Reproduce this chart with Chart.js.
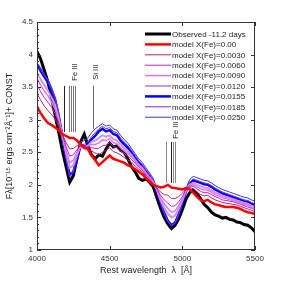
<!DOCTYPE html>
<html>
<head>
<meta charset="utf-8">
<script src="https://cdn.jsdelivr.net/npm/chart.js@4.4.0/dist/chart.umd.min.js"></script>
<style>
  html, body { margin: 0; padding: 0; background: #fff; }
  #wrap { width: 281px; height: 281px; }
</style>
</head>
<body>
<div id="wrap"><canvas id="myChart" width="281" height="281"></canvas></div>
<script>
// wavelength grid (Angstrom), 25 A steps
const wavelengths = [];
for (let w = 4000; w <= 5500; w += 25) wavelengths.push(w);

const observed = [4.05, 3.93, 3.76, 3.58, 3.34, 3.06, 2.80, 2.52, 2.28, 2.04, 2.14, 2.40, 2.66, 2.78, 2.60, 2.46, 2.40, 2.46, 2.44, 2.55, 2.64, 2.58, 2.60, 2.53, 2.50, 2.40, 2.28, 2.20, 2.10, 2.07, 2.09, 2.04, 1.97, 1.80, 1.64, 1.50, 1.40, 1.33, 1.38, 1.48, 1.62, 1.78, 1.88, 1.92, 1.87, 1.79, 1.70, 1.65, 1.58, 1.54, 1.52, 1.49, 1.50, 1.47, 1.46, 1.43, 1.42, 1.39, 1.38, 1.34, 1.28];
const fe0000 = [3.20, 3.10, 3.02, 2.95, 2.92, 2.88, 2.84, 2.78, 2.75, 2.72, 2.72, 2.68, 2.62, 2.58, 2.55, 2.45, 2.38, 2.30, 2.35, 2.40, 2.45, 2.40, 2.38, 2.36, 2.34, 2.30, 2.28, 2.24, 2.20, 2.16, 2.10, 2.05, 2.00, 1.98, 1.96, 1.97, 2.00, 1.96, 1.95, 1.94, 1.93, 1.95, 1.93, 1.88, 1.82, 1.77, 1.75, 1.77, 1.73, 1.70, 1.69, 1.67, 1.66, 1.66, 1.66, 1.65, 1.63, 1.60, 1.58, 1.57, 1.55];
const fe0030 = [3.40, 3.30, 3.21, 3.14, 3.08, 3.01, 2.90, 2.77, 2.65, 2.55, 2.56, 2.60, 2.60, 2.55, 2.55, 2.52, 2.49, 2.46, 2.50, 2.53, 2.57, 2.51, 2.49, 2.46, 2.42, 2.38, 2.35, 2.29, 2.24, 2.20, 2.13, 2.07, 2.01, 1.95, 1.89, 1.85, 1.84, 1.79, 1.79, 1.82, 1.87, 1.94, 1.96, 1.94, 1.89, 1.85, 1.83, 1.84, 1.80, 1.77, 1.75, 1.73, 1.72, 1.71, 1.70, 1.69, 1.67, 1.65, 1.63, 1.61, 1.59];
const fe0060 = [3.53, 3.43, 3.34, 3.27, 3.19, 3.09, 2.95, 2.77, 2.59, 2.44, 2.46, 2.54, 2.60, 2.57, 2.58, 2.57, 2.56, 2.56, 2.60, 2.61, 2.65, 2.59, 2.57, 2.52, 2.48, 2.44, 2.39, 2.33, 2.27, 2.22, 2.15, 2.09, 2.02, 1.94, 1.84, 1.77, 1.72, 1.67, 1.68, 1.74, 1.82, 1.93, 1.98, 1.98, 1.94, 1.90, 1.88, 1.88, 1.85, 1.82, 1.80, 1.77, 1.76, 1.75, 1.74, 1.72, 1.70, 1.68, 1.66, 1.64, 1.62];
const fe0090 = [3.63, 3.53, 3.44, 3.37, 3.27, 3.16, 2.98, 2.76, 2.53, 2.34, 2.38, 2.50, 2.58, 2.56, 2.60, 2.62, 2.62, 2.64, 2.69, 2.68, 2.71, 2.65, 2.63, 2.57, 2.52, 2.48, 2.43, 2.36, 2.29, 2.24, 2.17, 2.10, 2.03, 1.93, 1.80, 1.71, 1.64, 1.58, 1.60, 1.68, 1.79, 1.92, 1.99, 2.00, 1.97, 1.94, 1.92, 1.92, 1.89, 1.85, 1.83, 1.80, 1.79, 1.77, 1.76, 1.74, 1.72, 1.70, 1.69, 1.66, 1.64];
const fe0120 = [3.72, 3.62, 3.53, 3.45, 3.34, 3.22, 3.01, 2.76, 2.49, 2.26, 2.30, 2.46, 2.60, 2.58, 2.60, 2.66, 2.68, 2.72, 2.76, 2.74, 2.76, 2.70, 2.68, 2.62, 2.56, 2.52, 2.46, 2.38, 2.31, 2.26, 2.18, 2.11, 2.04, 1.92, 1.77, 1.65, 1.56, 1.50, 1.53, 1.63, 1.76, 1.91, 2.00, 2.03, 2.00, 1.98, 1.96, 1.95, 1.92, 1.88, 1.86, 1.83, 1.81, 1.80, 1.78, 1.76, 1.74, 1.72, 1.71, 1.68, 1.66];
const fe0155 = [3.85, 3.75, 3.66, 3.58, 3.45, 3.30, 3.05, 2.75, 2.42, 2.15, 2.20, 2.40, 2.60, 2.58, 2.62, 2.70, 2.75, 2.82, 2.86, 2.82, 2.84, 2.78, 2.76, 2.68, 2.62, 2.57, 2.50, 2.42, 2.34, 2.28, 2.20, 2.13, 2.05, 1.90, 1.72, 1.57, 1.45, 1.38, 1.42, 1.55, 1.72, 1.90, 2.02, 2.07, 2.05, 2.03, 2.01, 2.00, 1.97, 1.93, 1.90, 1.87, 1.85, 1.83, 1.81, 1.79, 1.77, 1.75, 1.74, 1.71, 1.69];
const fe0185 = [3.82, 3.76, 3.68, 3.60, 3.47, 3.32, 3.07, 2.76, 2.41, 2.13, 2.20, 2.42, 2.62, 2.62, 2.66, 2.74, 2.80, 2.86, 2.90, 2.86, 2.88, 2.82, 2.80, 2.72, 2.66, 2.60, 2.53, 2.45, 2.37, 2.31, 2.23, 2.16, 2.07, 1.91, 1.72, 1.56, 1.44, 1.37, 1.41, 1.54, 1.72, 1.91, 2.04, 2.09, 2.07, 2.05, 2.03, 2.02, 1.99, 1.95, 1.92, 1.89, 1.87, 1.85, 1.83, 1.81, 1.79, 1.77, 1.76, 1.73, 1.71];
const fe0250 = [3.87, 3.80, 3.70, 3.62, 3.50, 3.35, 3.10, 2.78, 2.42, 2.12, 2.22, 2.45, 2.66, 2.68, 2.72, 2.80, 2.86, 2.90, 2.94, 2.90, 2.92, 2.86, 2.84, 2.76, 2.70, 2.64, 2.56, 2.48, 2.40, 2.34, 2.26, 2.18, 2.10, 1.93, 1.74, 1.57, 1.45, 1.38, 1.42, 1.56, 1.74, 1.94, 2.08, 2.13, 2.11, 2.09, 2.07, 2.06, 2.03, 1.99, 1.96, 1.93, 1.91, 1.89, 1.87, 1.85, 1.83, 1.81, 1.80, 1.77, 1.75];

const seriesLabels = ['Observed -11.2 days', 'model X(Fe)=0.00', 'model X(Fe)=0.0030', 'model X(Fe)=0.0060',
  'model X(Fe)=0.0090', 'model X(Fe)=0.0120', 'model X(Fe)=0.0155', 'model X(Fe)=0.0185', 'model X(Fe)=0.0250'];
const seriesValues = [observed, fe0000, fe0030, fe0060, fe0090, fe0120, fe0155, fe0185, fe0250];
const seriesColors = ['#000000', '#ff0000', '#c21f68', '#c81ec4', '#e672e6', '#c896ee', '#0000ff', '#7a2ce6', '#3434e2'];
const seriesWidths = [3, 2.5, 1, 1, 1.5, 2, 2.5, 1, 1];

// line identifications (wavelengths of the marks)
const feLinesA = [4185, 4219, 4233, 4247, 4260];
const siLines = [4384];
const feLinesB = [4888, 4923, 4934, 4950];

const xTicks = [4000, 4500, 5000, 5500];

// draw order: models first, observed last
const order = [1, 2, 3, 4, 5, 7, 8, 6, 0];
const datasets = order.map(i => ({
  label: seriesLabels[i],
  data: wavelengths.map((w, j) => ({ x: w, y: seriesValues[i][j] })),
  borderColor: seriesColors[i],
  borderWidth: seriesWidths[i],
  pointRadius: 0,
  tension: 0,
  fill: false
}));

const framePlugin = {
  id: 'frame',
  afterDraw(chart) {
    const ctx = chart.ctx;
    const { left, right, top, bottom } = chart.chartArea;
    const xs = chart.scales.x, ys = chart.scales.y;
    ctx.save();
    ctx.strokeStyle = '#333';
    ctx.lineWidth = 1;
    ctx.strokeRect(left + 0.5, top + 0.5, right - left - 1, bottom - top - 1);

    // inward ticks
    ctx.beginPath();
    for (let v = 1; v <= 4.5001; v += 0.1) {
      const y = Math.round(ys.getPixelForValue(v)) + 0.5;
      const major = Math.abs(v * 2 - Math.round(v * 2)) < 0.01;
      ctx.moveTo(left, y); ctx.lineTo(left + (major ? 4 : 2), y);
      if (major) { ctx.moveTo(right, y); ctx.lineTo(right - 4, y); }
    }
    xTicks.forEach(t => {
      const x = Math.round(xs.getPixelForValue(t)) + 0.5;
      ctx.moveTo(x, bottom); ctx.lineTo(x, bottom - 4);
      ctx.moveTo(x, top); ctx.lineTo(x, top + 4);
    });
    ctx.stroke();

    // line id marks
    const mark = (list, v0, v1, colors) => {
      list.forEach((w, k) => {
        const x = Math.round(xs.getPixelForValue(w)) + 0.5;
        ctx.strokeStyle = colors[k % colors.length];
        ctx.beginPath();
        ctx.moveTo(x, ys.getPixelForValue(v0));
        ctx.lineTo(x, ys.getPixelForValue(v1));
        ctx.stroke();
      });
    };
    mark(feLinesA, 3.52, 2.81, ['#222', '#777', '#777', '#777', '#777']);
    mark(siLines, 3.52, 2.86, ['#666']);
    mark(feLinesB, 2.66, 2.03, ['#888', '#222', '#888', '#888']);

    const vlabel = (text, w, v) => {
      ctx.save();
      ctx.translate(xs.getPixelForValue(w) + 3, ys.getPixelForValue(v));
      ctx.rotate(-Math.PI / 2);
      ctx.fillStyle = '#222';
      ctx.font = '7.5px "Liberation Sans", Arial, sans-serif';
      ctx.textAlign = 'center';
      ctx.textBaseline = 'middle';
      ctx.fillText(text, 0, 0);
      ctx.restore();
    };
    vlabel('Fe III', 4237, 3.73);
    vlabel('Si III', 4384, 3.73);
    vlabel('Fe III', 4934, 2.84);

    // legend
    ctx.font = '8px "Liberation Sans", Arial, sans-serif';
    ctx.textBaseline = 'middle';
    ctx.textAlign = 'left';
    seriesLabels.forEach((lab, i) => {
      const y = 34 + i * 10.4;
      ctx.strokeStyle = seriesColors[i];
      ctx.lineWidth = seriesWidths[i];
      ctx.beginPath();
      ctx.moveTo(145, y); ctx.lineTo(171, y);
      ctx.stroke();
      ctx.fillStyle = '#222';
      ctx.fillText(lab, 172, y + 0.5);
    });
    ctx.restore();
  }
};

new Chart(document.getElementById('myChart').getContext('2d'), {
  type: 'line',
  data: { datasets: datasets },
  options: {
    responsive: false,
    animation: false,
    layout: { padding: { left: 4, right: 26, top: 22, bottom: 5 } },
    plugins: { legend: { display: false }, tooltip: { enabled: false } },
    scales: {
      x: {
        type: 'linear',
        min: 4000, max: 5500,
        afterBuildTicks(axis) { axis.ticks = xTicks.map(v => ({ value: v })); },
        afterFit(axis) { axis.height = 26; },
        grid: { display: false, drawTicks: false },
        border: { display: false },
        ticks: { color: '#333', font: { size: 8, family: '"Liberation Sans", Arial' }, padding: 4, maxRotation: 0, callback: v => String(v) },
        title: { display: true, text: 'Rest wavelength  λ  [Å]', color: '#222', font: { size: 9, family: '"Liberation Sans", Arial' }, padding: { top: 3, bottom: 0 } }
      },
      y: {
        min: 1, max: 4.5,
        afterFit(axis) { axis.width = 33; },
        grid: { display: false, drawTicks: false },
        border: { display: false },
        ticks: { stepSize: 0.5, color: '#333', font: { size: 8, family: '"Liberation Sans", Arial' }, padding: 4, callback: v => String(Number(v.toFixed(1))) },
        title: { display: true, text: 'Fλ[10⁻¹⁵ ergs cm⁻²Å⁻¹]+ CONST', color: '#222', font: { size: 9, family: '"Liberation Sans", Arial' }, padding: { top: 0, bottom: 2 } }
      }
    }
  },
  plugins: [framePlugin]
});
</script>
</body>
</html>
